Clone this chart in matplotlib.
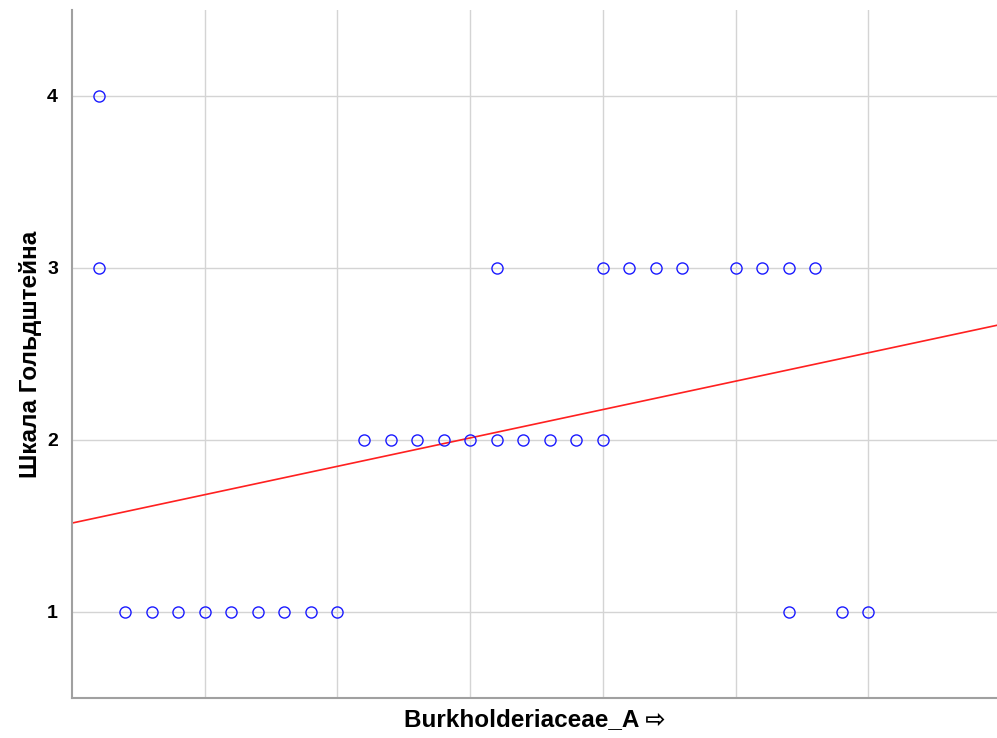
import matplotlib
matplotlib.use("Agg")
import matplotlib.pyplot as plt
import numpy as np

x_y4 = [0.2]
x_y3 = [0.2, 3.2, 4.0, 4.2, 4.4, 4.6, 5.0, 5.2, 5.4, 5.6]
x_y2 = [2.2, 2.4, 2.6, 2.8, 3.0, 3.2, 3.4, 3.6, 3.8, 4.0]
x_y1 = [0.4, 0.6, 0.8, 1.0, 1.2, 1.4, 1.6, 1.8, 2.0, 5.4, 5.8, 6.0]

# fitted line as drawn in the figure
fit_intercept = 1.517
fit_slope = 0.165

y_ticks = [1, 2, 3, 4]
x_grid = [1, 2, 3, 4, 5, 6]

xs = np.array(x_y4 + x_y3 + x_y2 + x_y1)
ys = np.array([4] * len(x_y4) + [3] * len(x_y3) + [2] * len(x_y2) + [1] * len(x_y1))

fonts = ["Liberation Sans", "DejaVu Sans"]

fig = plt.figure(figsize=(9.97, 7.38), dpi=100)
ax = fig.add_axes([72 / 997, 40 / 738, 1 - 72 / 997, 688 / 738])

ax.set_xlim(0, 6.97)
ax.set_ylim(0.5, 4.5)

line_x = np.array(ax.get_xlim())
ax.plot(line_x, fit_intercept + fit_slope * line_x, color="#ff2020", lw=1.2, zorder=2)
ax.plot(xs, ys, linestyle="none", marker="o", markersize=8, markerfacecolor="none",
        markeredgecolor="#1a1aff", markeredgewidth=1.0, zorder=3)

ax.set_xticks(x_grid)
ax.set_xticklabels([])
ax.set_yticks(y_ticks)
ax.set_yticklabels([str(t) for t in y_ticks], fontsize=14, fontweight="bold", family=fonts)
ax.tick_params(axis="x", length=0)
ax.tick_params(axis="y", length=0, pad=10)
ax.grid(True, color="#d4d4d4", lw=1.0, zorder=0)
ax.set_axisbelow(True)

for side in ("top", "right"):
    ax.spines[side].set_visible(False)
for side in ("left", "bottom"):
    ax.spines[side].set_color("#a0a0a0")
    ax.spines[side].set_linewidth(1.5)

ax.set_xlabel("Burkholderiaceae_A \u21e8", fontsize=17.5, fontweight="bold", family=fonts)
ax.set_ylabel("Шкала Гольдштейна", fontsize=17.5, fontweight="bold", family=fonts)
ax.xaxis.label.set_va("top")
ax.xaxis.set_label_coords(0.5, -0.015)
ax.yaxis.set_label_coords(-0.045, 0.5)
ax.yaxis.label.set_va("center")

fig.savefig("out.png", dpi=100)
